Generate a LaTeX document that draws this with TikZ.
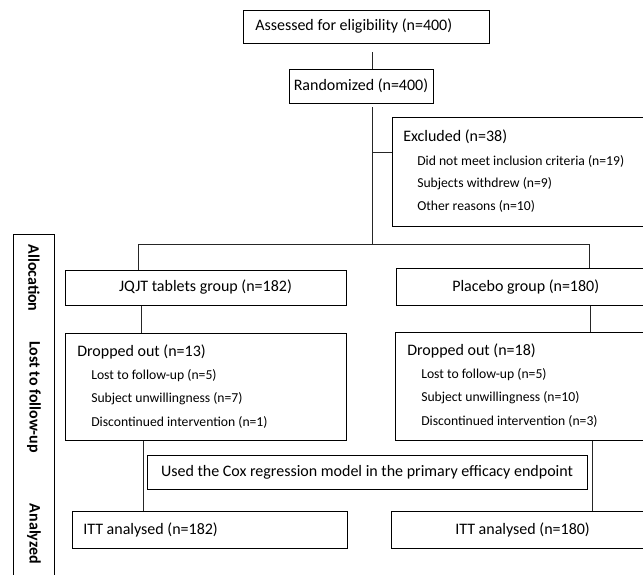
\documentclass[tikz,border=0pt]{standalone}
\usepackage{fontspec}
\setmainfont{Carlito}
\usetikzlibrary{fit}
\begin{document}
\begin{tikzpicture}[x=0.75pt,y=-0.75pt,
  box/.style={draw=black,line width=0.75pt,inner sep=0pt,rectangle},
  main/.style={font=\fontsize{12}{14}\selectfont,inner sep=0pt},
  sub/.style={font=\fontsize{10.25}{12}\selectfont,inner sep=0pt,anchor=west},
  lbl/.style={font=\fontsize{12}{14}\selectfont\bfseries,inner sep=0pt,rotate=-90},
  conn/.style={draw=black!85,line width=0.75pt}]
\useasboundingbox (0,0) rectangle (643,575);
\clip (0,0) rectangle (643,575);
\fill[white] (0,0) rectangle (643,575);

% sidebar
\node[box,fit={(13,234) (54,600)}] (side) {};
\node[lbl] (lalloc) at (34,278) {Allocation};
\node[lbl] (llost) at (34,397) {Lost to follow-up};
\node[lbl] (lanal) at (34,534) {Analyzed};

% top boxes
\node[box,fit={(243,10) (489,43)}] (assess) {};
\node[main,anchor=west] (tassess) at (255,26.5) {Assessed for eligibility (n=400)};
\node[box,fit={(289,69) (433,103)}] (rand) {};
\node[main] (trand) at (rand.center) {Randomized (n=400)};

% excluded
\node[box,fit={(392,117) (660,226)}] (excl) {};
\node[main,anchor=west] (texcl) at (403,137) {Excluded (n=38)};
\node[sub] (e1t) at (417,161) {Did not meet inclusion criteria (n=19)};
\node[sub] (e2t) at (417,183.5) {Subjects withdrew (n=9)};
\node[sub] (e3t) at (417,206) {Other reasons (n=10)};

% allocation
\node[box,fit={(65,270) (346,305)}] (jqjt) {};
\node[main] (tjqjt) at (jqjt.center) {JQJT tablets group (n=182)};
\node[box,fit={(396,268) (660,305)}] (plac) {};
\node[main,anchor=west] (tplac) at (452,287) {Placebo group (n=180)};

% dropped out
\node[box,fit={(65,333) (346,440)}] (dropL) {};
\node[main,anchor=west] (tdropL) at (77,352) {Dropped out (n=13)};
\node[sub] (dl1) at (91,375.5) {Lost to follow-up (n=5)};
\node[sub] (dl2) at (91,398.5) {Subject unwillingness (n=7)};
\node[sub] (dl3) at (91,422) {Discontinued intervention (n=1)};

\node[box,fit={(395,332) (660,440)}] (dropR) {};
\node[main,anchor=west] (tdropR) at (407,351) {Dropped out (n=18)};
\node[sub] (dr1) at (421,374.5) {Lost to follow-up (n=5)};
\node[sub] (dr2) at (421,397.5) {Subject unwillingness (n=10)};
\node[sub] (dr3) at (421,421) {Discontinued intervention (n=3)};

% cox
\node[box,fit={(147,455) (587,489)}] (cox) {};
\node[main] (tcox) at (cox.center) {Used the Cox regression model in the primary efficacy endpoint};

% analysed
\node[box,fit={(72,511) (347,548)}] (ittL) {};
\node[main,anchor=west] (tittL) at (83,529.5) {ITT analysed (n=182)};
\node[box,fit={(391,511) (660,548)}] (ittR) {};
\node[main,anchor=west] (tittR) at (455,529.5) {ITT analysed (n=180)};

% connectors
\coordinate (a1) at (372,52);
\coordinate (r1) at (372,107);
\coordinate (r2) at (372,244);
\coordinate (ex) at (372,152);
\coordinate (h1) at (138,244);
\coordinate (h2) at (589,244);
\coordinate (v1) at (141,0);
\coordinate (v2) at (590,0);
\coordinate (v3) at (143,0);
\coordinate (v4) at (592,0);
\draw[conn] (a1) -- (a1 |- rand.north);
\draw[conn] (r1) -- (r2);
\draw[conn] (ex) -- (ex -| excl.west);
\draw[conn] (h1 |- jqjt.north) -- (h1) -- (h2) -- (h2 |- plac.north);
\draw[conn] (v1 |- jqjt.south) -- (v1 |- dropL.north);
\draw[conn] (v2 |- plac.south) -- (v2 |- dropR.north);
\draw[conn] (v3 |- dropL.south) -- (v3 |- ittL.north);
\draw[conn] (v4 |- dropR.south) -- (v4 |- ittR.north);
\end{tikzpicture}
\end{document}
